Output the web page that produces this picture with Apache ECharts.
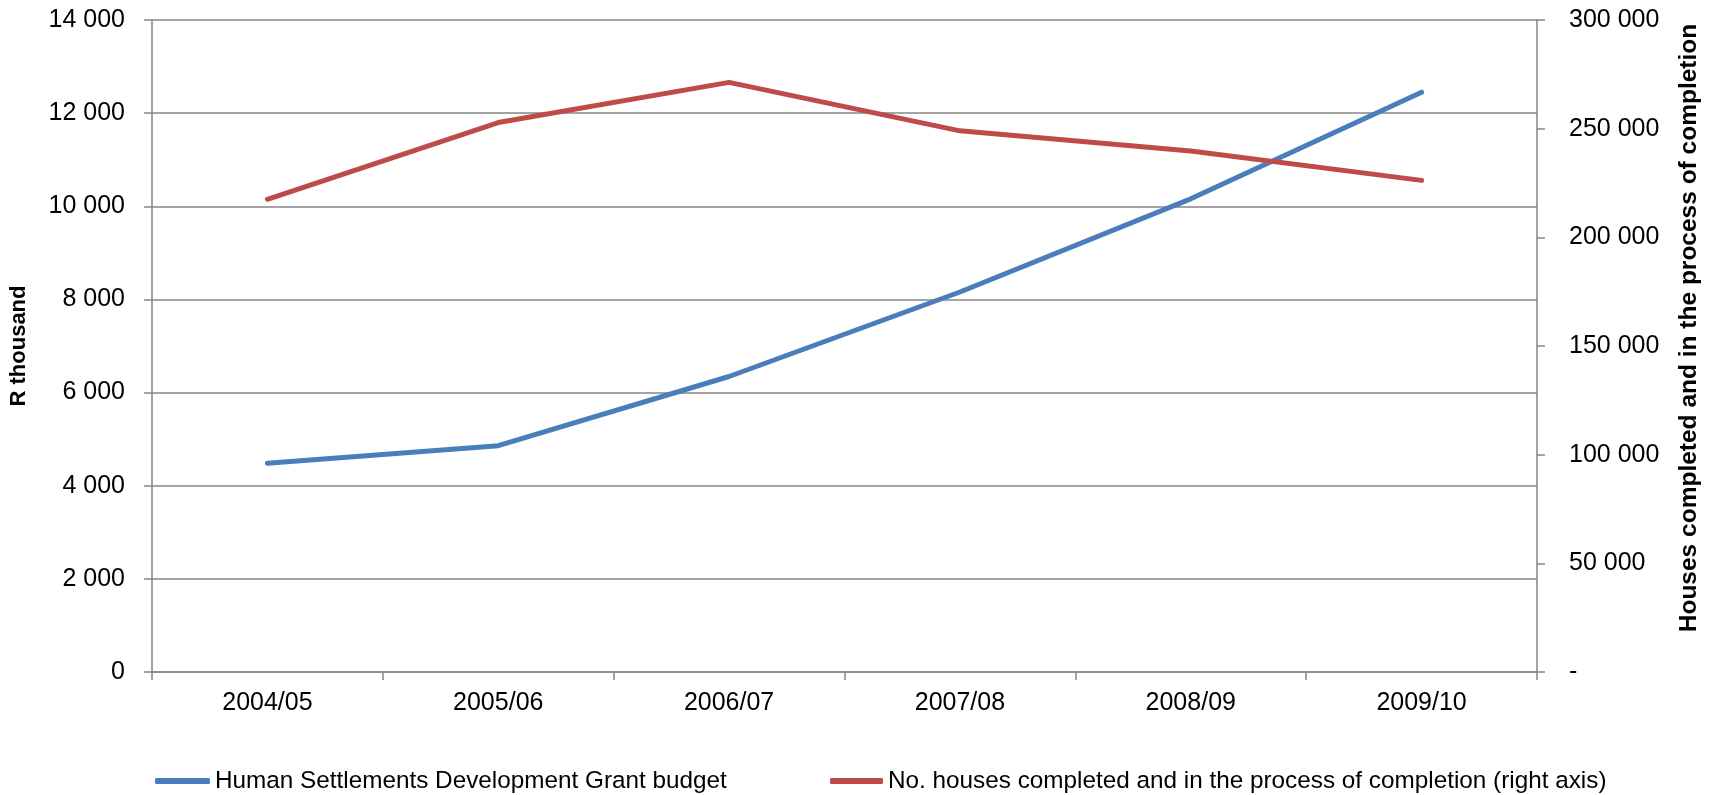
<!DOCTYPE html>
<html>
<head>
<meta charset="utf-8">
<title>Human Settlements Development Grant budget and housing delivery</title>
<script src="https://cdn.jsdelivr.net/npm/echarts@6/dist/echarts.min.js"></script>
<style>
  html, body { margin: 0; padding: 0; background: #ffffff; }
  #chart { width: 1713px; height: 795px; }
</style>
</head>
<body>
<div id="chart"></div>
<script>
// Financial years on the category axis
const years = ['2004/05', '2005/06', '2006/07', '2007/08', '2008/09', '2009/10'];

// Human Settlements Development Grant budget, R thousand (left axis)
const grantBudget = [4480, 4860, 6345, 8160, 10160, 12450];

// Houses completed and in the process of completion (right axis)
const housesCompleted = [217500, 252800, 271300, 249000, 239700, 226200];

// Series names shown in the legend
const grantName = 'Human Settlements Development Grant budget';
const housesName = 'No. houses completed and in the process of completion (right axis)';

const FONT = '"Liberation Sans", Arial, sans-serif';
const AXIS_GREY = '#868686';
const BLUE = '#4A7EBB';
const RED = '#BE4B48';

// Thousands separated by a space, e.g. 12 000
function spaced(v) {
  return String(Math.round(v)).replace(/\B(?=(\d{3})+(?!\d))/g, ' ');
}

const chart = echarts.init(document.getElementById('chart'), null, { renderer: 'canvas' });

chart.setOption({
  animation: false,
  backgroundColor: '#ffffff',
  textStyle: { fontFamily: FONT, color: '#000000' },
  grid: { left: 145, right: 176, top: 20, bottom: 123, containLabel: false },
  legend: [
    {
      data: [{ name: grantName, icon: 'roundRect' }],
      left: 150, top: 764,
      itemWidth: 55, itemHeight: 6,
      textStyle: { fontFamily: FONT, fontSize: 24.3, color: '#000000' },
      selectedMode: false
    },
    {
      data: [{ name: housesName, icon: 'roundRect' }],
      left: 825, top: 764,
      itemWidth: 53, itemHeight: 6,
      textStyle: { fontFamily: FONT, fontSize: 24.3, color: '#000000' },
      selectedMode: false
    }
  ],
  xAxis: {
    type: 'category',
    data: years,
    boundaryGap: true,
    axisLine: { show: true, lineStyle: { color: AXIS_GREY, width: 1.5 } },
    axisTick: { show: true, alignWithLabel: false, length: 8, lineStyle: { color: AXIS_GREY, width: 1.5 } },
    axisLabel: { margin: 19, fontFamily: FONT, fontSize: 25, color: '#000000' },
    splitLine: { show: false }
  },
  yAxis: [
    {
      type: 'value',
      min: 0, max: 14000, interval: 2000,
      name: 'R thousand',
      nameLocation: 'middle',
      nameRotate: 90,
      nameGap: 122,
      nameTextStyle: { fontFamily: FONT, fontSize: 22, fontWeight: 'bold', color: '#000000' },
      axisLine: { show: true, lineStyle: { color: AXIS_GREY, width: 1.5 } },
      axisTick: { show: true, length: 8, lineStyle: { color: AXIS_GREY, width: 1.5 } },
      axisLabel: { margin: 27, fontFamily: FONT, fontSize: 25, color: '#000000', formatter: spaced },
      splitLine: { show: true, lineStyle: { color: AXIS_GREY, width: 1.5 } }
    },
    {
      type: 'value',
      position: 'right',
      min: 0, max: 300000, interval: 50000,
      name: 'Houses completed and in the process of completion',
      nameLocation: 'middle',
      nameRotate: 90,
      nameGap: 140,
      nameTextStyle: {
        fontFamily: FONT, fontSize: 24.5, fontWeight: 'bold', color: '#000000',
        padding: [0, 0, 0, 36]
      },
      axisLine: { show: true, lineStyle: { color: AXIS_GREY, width: 1.5 } },
      axisTick: { show: true, length: 8, lineStyle: { color: AXIS_GREY, width: 1.5 } },
      axisLabel: {
        margin: 32, fontFamily: FONT, fontSize: 25, color: '#000000',
        formatter: v => (v === 0 ? '-' : spaced(v))
      },
      splitLine: { show: false }
    }
  ],
  series: [
    {
      name: grantName,
      type: 'line',
      yAxisIndex: 0,
      data: grantBudget,
      symbol: 'none',
      color: BLUE,
      lineStyle: { color: BLUE, width: 5, cap: 'round', join: 'round' }
    },
    {
      name: housesName,
      type: 'line',
      yAxisIndex: 1,
      data: housesCompleted,
      symbol: 'none',
      color: RED,
      lineStyle: { color: RED, width: 5, cap: 'round', join: 'round' }
    }
  ]
});
</script>
</body>
</html>
